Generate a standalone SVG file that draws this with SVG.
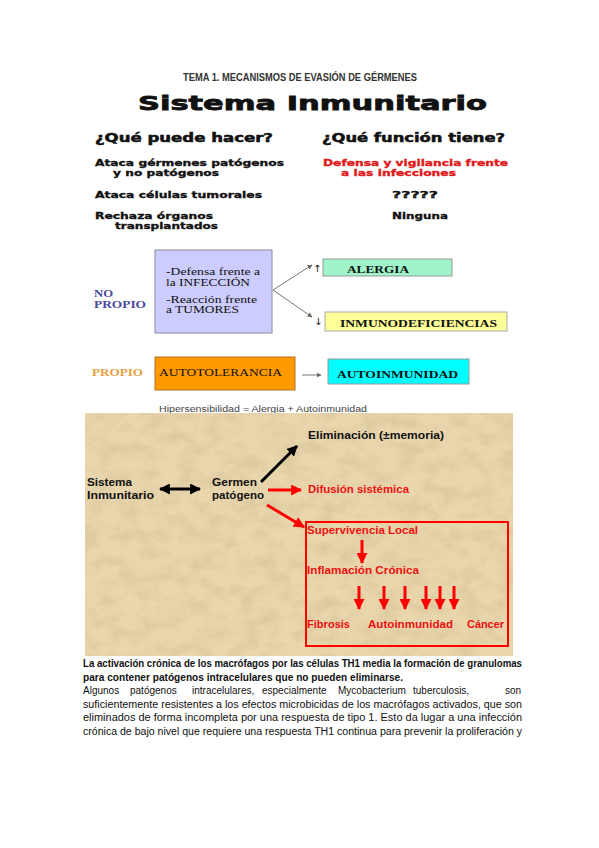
<svg xmlns="http://www.w3.org/2000/svg" width="599" height="848" viewBox="0 0 599 848">
<style>
.t1{font-family:"Liberation Sans",Arial,sans-serif;font-weight:bold;fill:#333}
.vb{font-family:"DejaVu Sans",Verdana,sans-serif;font-weight:bold;fill:#111;stroke:#111;stroke-width:0.35}
.vr{font-family:"DejaVu Sans",Verdana,sans-serif;font-weight:bold;fill:#e01818;stroke:#e01818;stroke-width:0.35}
.sr{font-family:"Liberation Serif","Times New Roman",serif;fill:#111}
.srb{font-family:"Liberation Serif","Times New Roman",serif;font-weight:bold;fill:#111}
.tb{font-family:"Liberation Sans",Arial,sans-serif;font-weight:bold;font-size:11.5px;fill:#111}
.tr{font-family:"Liberation Sans",Arial,sans-serif;font-weight:bold;font-size:11.5px;fill:#ee1111}
.p{font-family:"Liberation Sans",Arial,sans-serif;font-size:10px;fill:#111}
.pb{font-family:"Liberation Sans",Arial,sans-serif;font-size:10px;font-weight:bold;fill:#111}
.thin{stroke:#777;stroke-width:1;fill:none}
.blk{stroke:#000;stroke-width:3;fill:none}
.red{stroke:#f00;stroke-width:3;fill:none}
</style>
<defs>
<marker id="hk" markerUnits="userSpaceOnUse" viewBox="0 0 10 10" refX="9" refY="5" markerWidth="11" markerHeight="11" orient="auto-start-reverse"><path d="M0,0 L10,5 L0,10 z" fill="#000"/></marker>
<marker id="hr" markerUnits="userSpaceOnUse" viewBox="0 0 10 10" refX="9" refY="5" markerWidth="12" markerHeight="11" orient="auto"><path d="M0,0 L10,5 L0,10 z" fill="#f00"/></marker>
<marker id="hg" markerUnits="userSpaceOnUse" viewBox="0 0 10 10" refX="9" refY="5" markerWidth="5" markerHeight="5" orient="auto"><path d="M0,0 L10,5 L0,10 z" fill="#666"/></marker>
<filter id="tex" x="0" y="0" width="100%" height="100%">
<feTurbulence type="fractalNoise" baseFrequency="0.05 0.07" numOctaves="4" seed="5"/>
<feColorMatrix type="matrix" values="0 0 0 0 0.6  0 0 0 0 0.46  0 0 0 0 0.26  1.8 0 0 0 -0.7"/>
</filter>
</defs>
<rect width="599" height="848" fill="#fff"/>

<!-- Section 1 -->
<g id="header">
<text class="t1" x="183" y="81" font-size="10" textLength="234" lengthAdjust="spacingAndGlyphs">TEMA 1. MECANISMOS DE EVASIÓN DE GÉRMENES</text>
<text class="vb" x="138" y="110" font-size="20" style="stroke-width:0.8" textLength="349" lengthAdjust="spacingAndGlyphs">Sistema Inmunitario</text>
</g>
<g id="col-left">
<text class="vb" x="95" y="142" font-size="12" style="stroke-width:0.5" textLength="178" lengthAdjust="spacingAndGlyphs">¿Qué puede hacer?</text>
<text class="vb" x="95" y="166" font-size="9.5" textLength="189" lengthAdjust="spacingAndGlyphs">Ataca gérmenes patógenos</text>
<text class="vb" x="113" y="176" font-size="9.5" textLength="106" lengthAdjust="spacingAndGlyphs">y no patógenos</text>
<text class="vb" x="95" y="198" font-size="9.5" textLength="167" lengthAdjust="spacingAndGlyphs">Ataca células tumorales</text>
<text class="vb" x="95" y="219" font-size="9.5" textLength="118" lengthAdjust="spacingAndGlyphs">Rechaza órganos</text>
<text class="vb" x="115" y="229" font-size="9.5" textLength="103" lengthAdjust="spacingAndGlyphs">transplantados</text>
</g>
<g id="col-right">
<text class="vb" x="322" y="142" font-size="12" style="stroke-width:0.5" textLength="183" lengthAdjust="spacingAndGlyphs">¿Qué función tiene?</text>
<text class="vr" x="323" y="166" font-size="9.5" textLength="185" lengthAdjust="spacingAndGlyphs">Defensa y vigilancia frente</text>
<text class="vr" x="341" y="176" font-size="9.5" textLength="115" lengthAdjust="spacingAndGlyphs">a las infecciones</text>
<text class="vb" x="392" y="198" font-size="9.5" textLength="46" lengthAdjust="spacingAndGlyphs">?????</text>
<text class="vb" x="392" y="219" font-size="9.5" textLength="56" lengthAdjust="spacingAndGlyphs">Ninguna</text>
</g>

<!-- Section 2 -->
<g id="no-propio">
<text class="srb" x="94" y="297" font-size="10" style="fill:#4a4a9c" textLength="19" lengthAdjust="spacingAndGlyphs">NO</text>
<text class="srb" x="94" y="308" font-size="10" style="fill:#4a4a9c" textLength="52" lengthAdjust="spacingAndGlyphs">PROPIO</text>
</g>
<g id="defensa">
<rect x="155" y="250" width="117" height="83" fill="#ccccff" stroke="#8a8a9a" stroke-width="1"/>
<text class="sr" x="166" y="275" font-size="10.5" textLength="94" lengthAdjust="spacingAndGlyphs">-Defensa frente a</text>
<text class="sr" x="166" y="285.5" font-size="10.5" textLength="84" lengthAdjust="spacingAndGlyphs">la INFECCIÓN</text>
<text class="sr" x="166" y="302.5" font-size="10.5" textLength="91" lengthAdjust="spacingAndGlyphs">-Reacción frente</text>
<text class="sr" x="166" y="313" font-size="10.5" textLength="73" lengthAdjust="spacingAndGlyphs">a TUMORES</text>
</g>
<g id="alergia">
<rect x="323" y="259" width="129" height="17" fill="#9ff5c9" stroke="#999" stroke-width="1"/>
<text class="srb" x="347" y="272.5" font-size="10" textLength="62" lengthAdjust="spacingAndGlyphs">ALERGIA</text>
</g>
<g id="inmunodeficiencias">
<rect x="325" y="312" width="182" height="19" fill="#ffff99" stroke="#aaa" stroke-width="1"/>
<text class="srb" x="340" y="326.5" font-size="10" textLength="157" lengthAdjust="spacingAndGlyphs">INMUNODEFICIENCIAS</text>
</g>
<g id="propio">
<text class="srb" x="92" y="376" font-size="10" style="fill:#e6a040" textLength="51" lengthAdjust="spacingAndGlyphs">PROPIO</text>
</g>
<g id="autotolerancia">
<rect x="155" y="357" width="140" height="33" fill="#ff9900" stroke="#b07020" stroke-width="1"/>
<text class="sr" x="159" y="376" font-size="10.5" textLength="123" lengthAdjust="spacingAndGlyphs">AUTOTOLERANCIA</text>
</g>
<g id="autoinmunidad">
<rect x="328" y="359" width="141" height="25" fill="#00ffff" stroke="#999" stroke-width="1"/>
<text class="srb" x="337" y="377.5" font-size="10" textLength="121" lengthAdjust="spacingAndGlyphs">AUTOINMUNIDAD</text>
</g>
<g id="nota">
<text x="159" y="411.5" font-family="Liberation Sans, Arial, sans-serif" font-size="8.5" fill="#444" textLength="208" lengthAdjust="spacingAndGlyphs">Hipersensibilidad = Alergia + Autoinmunidad</text>
</g>
<g id="connectors-2">
<line class="thin" x1="273" y1="290" x2="312" y2="265" marker-end="url(#hg)"/>
<line class="thin" x1="273" y1="290" x2="312" y2="317" marker-end="url(#hg)"/>
<text x="313" y="272" font-family="DejaVu Sans, sans-serif" font-size="10" fill="#222">↑</text>
<text x="314" y="325" font-family="DejaVu Sans, sans-serif" font-size="10" fill="#222">↓</text>
<line class="thin" x1="302" y1="375" x2="321" y2="375" marker-end="url(#hg)"/>
</g>

<!-- Section 3 -->
<g id="fondo">
<rect x="85" y="413" width="428" height="243" fill="#e9d6ad"/>
<rect x="85" y="413" width="428" height="243" filter="url(#tex)" opacity="0.5"/>
</g>
<g id="sistema">
<text class="tb" x="87" y="486" textLength="45" lengthAdjust="spacingAndGlyphs">Sistema</text>
<text class="tb" x="87" y="499" textLength="67" lengthAdjust="spacingAndGlyphs">Inmunitario</text>
</g>
<g id="germen">
<text class="tb" x="212" y="486" textLength="45" lengthAdjust="spacingAndGlyphs">Germen</text>
<text class="tb" x="212" y="499" textLength="52" lengthAdjust="spacingAndGlyphs">patógeno</text>
</g>
<g id="eliminacion">
<text class="tb" x="308" y="439" textLength="136" lengthAdjust="spacingAndGlyphs">Eliminación (±memoria)</text>
</g>
<g id="difusion">
<text class="tr" x="308" y="493" textLength="101" lengthAdjust="spacingAndGlyphs">Difusión sistémica</text>
</g>
<g id="cronica">
<rect x="306" y="522" width="202" height="124" fill="none" stroke="#f00" stroke-width="2"/>
<text class="tr" x="307" y="534" textLength="111" lengthAdjust="spacingAndGlyphs">Supervivencia Local</text>
<text class="tr" x="307" y="574" textLength="112" lengthAdjust="spacingAndGlyphs">Inflamación Crónica</text>
<text class="tr" x="307" y="628" textLength="43" lengthAdjust="spacingAndGlyphs">Fibrosis</text>
<text class="tr" x="368" y="628" textLength="85" lengthAdjust="spacingAndGlyphs">Autoinmunidad</text>
<text class="tr" x="467" y="628" textLength="37" lengthAdjust="spacingAndGlyphs">Cáncer</text>
</g>
<g id="connectors-3">
<line class="blk" x1="160" y1="489" x2="200" y2="489" marker-start="url(#hk)" marker-end="url(#hk)"/>
<line class="blk" x1="261" y1="482" x2="297" y2="446" marker-end="url(#hk)"/>
<line class="red" x1="268" y1="490" x2="301" y2="490" marker-end="url(#hr)"/>
<line class="red" x1="267" y1="505" x2="304" y2="527" marker-end="url(#hr)"/>
<line class="red" x1="362" y1="540" x2="362" y2="563" marker-end="url(#hr)"/>
<line class="red" x1="359" y1="586" x2="359" y2="609" marker-end="url(#hr)"/>
<line class="red" x1="384" y1="586" x2="384" y2="609" marker-end="url(#hr)"/>
<line class="red" x1="405" y1="586" x2="405" y2="609" marker-end="url(#hr)"/>
<line class="red" x1="426" y1="586" x2="426" y2="609" marker-end="url(#hr)"/>
<line class="red" x1="440" y1="586" x2="440" y2="609" marker-end="url(#hr)"/>
<line class="red" x1="454" y1="586" x2="454" y2="609" marker-end="url(#hr)"/>
</g>

<!-- Paragraph -->
<g id="parrafo">
<text class="pb" x="83" y="667" textLength="439" lengthAdjust="spacingAndGlyphs">La activación crónica de los macrófagos por las células TH1 media la formación de granulomas</text>
<text class="pb" x="83" y="680.5" textLength="320" lengthAdjust="spacingAndGlyphs">para contener patógenos intracelulares que no pueden eliminarse.</text>
<text class="p" y="694"><tspan x="83">Algunos</tspan><tspan x="130">patógenos</tspan><tspan x="192">intracelulares,</tspan><tspan x="262">especialmente</tspan><tspan x="338">Mycobacterium</tspan><tspan x="413">tuberculosis,</tspan><tspan x="505">son</tspan></text>
<text class="p" x="83" y="707.5" textLength="439" lengthAdjust="spacingAndGlyphs">suficientemente resistentes a los efectos microbicidas de los macrófagos activados, que son</text>
<text class="p" x="83" y="721" textLength="439" lengthAdjust="spacingAndGlyphs">eliminados de forma incompleta por una respuesta de tipo 1. Esto da lugar a una infección</text>
<text class="p" x="83" y="734.5" textLength="439" lengthAdjust="spacingAndGlyphs">crónica de bajo nivel que requiere una respuesta TH1 continua para prevenir la proliferación y</text>
</g>
</svg>
